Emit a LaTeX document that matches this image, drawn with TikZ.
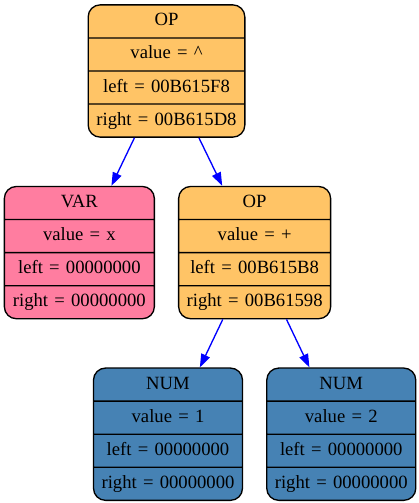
\documentclass[tikz,border=0pt]{standalone}
\usepackage{fontspec}
\setmainfont{Liberation Serif}
\usepackage{xcolor}
\usetikzlibrary{arrows.meta, positioning, shapes.multipart}

\definecolor{opcol}{RGB}{255,196,102}
\definecolor{varcol}{RGB}{255,125,160}
\definecolor{numcol}{RGB}{70,130,180}

% the four fields of one tree node
\newcommand{\fields}[4]{\strut #1\nodepart{two}\strut value = #2%
  \nodepart{three}\strut left = #3\nodepart{four}\strut right = #4}

\begin{document}
\begin{tikzpicture}[
    x=0.75pt, y=-0.75pt,
    font=\fontsize{14}{16.8}\selectfont,
    rec/.style={rectangle split, rectangle split parts=4, draw, line width=1pt,
      rounded corners=9pt, align=center, inner xsep=0pt, inner ysep=3.5pt},
    opnode/.style={rec, fill=opcol},
    varnode/.style={rec, fill=varcol},
    numnode/.style={rec, fill=numcol},
    edge/.style={draw=blue, line width=1pt, -{Triangle[length=10pt, width=7pt]}}
  ]
  \useasboundingbox (0,0) rectangle (418,503);
  \node[opnode, text width=117.5pt] (root) at (166.5,71)
    {\fields{OP}{\textasciicircum}{00B615F8}{00B615D8}};
  \node[varnode, text width=112.5pt, below left=36pt and 8.6pt of root.south,
    anchor=north east] (var) {\fields{VAR}{x}{00000000}{00000000}};
  \node[opnode, text width=114pt, below right=36pt and 8.6pt of root.south,
    anchor=north west] (plus) {\fields{OP}{+}{00B615B8}{00B61598}};
  \node[numnode, text width=111.75pt, below left=36pt and 8.6pt of plus.south,
    anchor=north east] (one) {\fields{NUM}{1}{00000000}{00000000}};
  \node[numnode, text width=111.75pt, below right=36pt and 8.6pt of plus.south,
    anchor=north west] (two) {\fields{NUM}{2}{00000000}{00000000}};
  \draw[edge] (root) -- (var);
  \draw[edge] (root) -- (plus);
  \draw[edge] (plus) -- (one);
  \draw[edge] (plus) -- (two);
\end{tikzpicture}
\end{document}
